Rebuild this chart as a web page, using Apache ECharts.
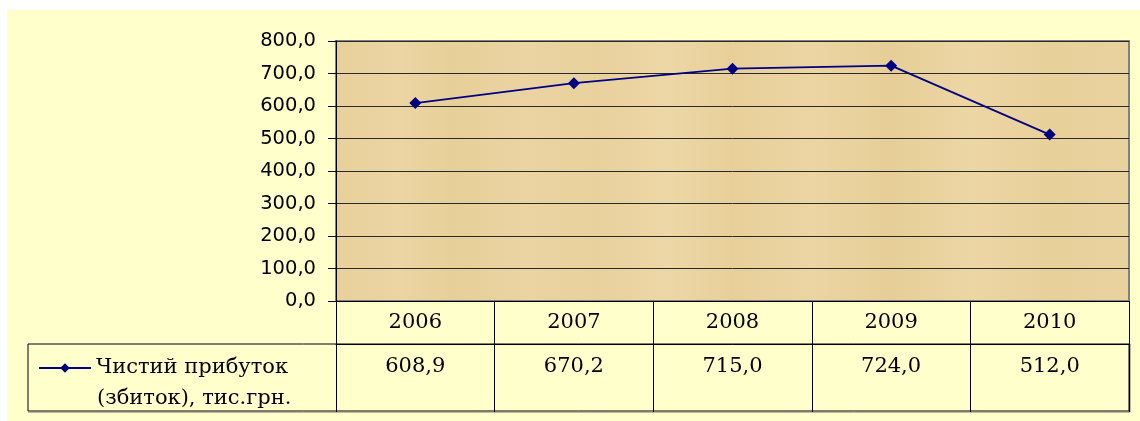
<!DOCTYPE html>
<html>
<head>
<meta charset="utf-8">
<script src="https://cdn.jsdelivr.net/npm/echarts@6/dist/echarts.min.js"></script>
<style>
  html, body {
    margin: 0;
    padding: 0;
    background: #fff;
  }
  #chart {
    position: absolute;
    left: 7px;
    top: 10px;
    width: 1133px;
    height: 411px;
    background: #ffffcc;
  }
</style>
</head>
<body>
<div id="chart"></div>
<script>
// роки та чистий прибуток (збиток), тис.грн.
const years = ['2006', '2007', '2008', '2009', '2010']
const netProfit = [608.9, 670.2, 715.0, 724.0, 512.0]
const seriesName = 'Чистий прибуток\n(збиток), тис.грн.'
const yTicks = { min: 0, max: 800, step: 100 }

// 608.9 -> "608,9"
function fmt (v) {
  return Number(v).toFixed(1).replace('.', ',')
}

const chartDom = document.getElementById('chart')
const myChart = echarts.init(chartDom)

// пергамент у зоні графіка
const parchment = new echarts.graphic.LinearGradient(0, 0, 1, 0, [
  { offset: 0, color: '#e8d09b' },
  { offset: 0.08, color: '#ecd5a3' },
  { offset: 0.15, color: '#e7cf99' },
  { offset: 0.24, color: '#ebd4a2' },
  { offset: 0.33, color: '#e9d19d' },
  { offset: 0.42, color: '#edd7a6' },
  { offset: 0.5, color: '#e8cf9a' },
  { offset: 0.6, color: '#ecd5a3' },
  { offset: 0.7, color: '#e7ce98' },
  { offset: 0.8, color: '#ecd6a4' },
  { offset: 0.9, color: '#e8d09b' },
  { offset: 1, color: '#ead29f' }
])

const serif = 'DejaVu Serif'

const option = {
  animation: false,
  grid: {
    left: 329,
    top: 31,
    width: 793,
    height: 260,
    show: true,
    backgroundColor: parchment,
    borderColor: '#808080',
    borderWidth: 2
  },
  legend: {
    left: 31,
    top: 343,
    padding: 0,
    orient: 'vertical',
    itemWidth: 52,
    itemHeight: 12,
    itemGap: 0,
    data: [seriesName],
    // перший рядок назви біля значка, другий нижче окремим текстом
    formatter: function (name) {
      return name.split('\n')[0]
    },
    textStyle: {
      fontFamily: serif,
      fontSize: 21,
      color: '#000',
      lineHeight: 30
    }
  },
  xAxis: [
    {
      // рядок з роками; поділки тягнуться вниз як лінії таблиці
      type: 'category',
      data: years,
      boundaryGap: true,
      axisLine: { show: true, lineStyle: { color: '#000', width: 1 } },
      axisTick: { show: true, inside: false, length: 111, lineStyle: { color: '#000', width: 1 } },
      axisLabel: {
        margin: 11,
        fontFamily: serif,
        fontSize: 21,
        color: '#000'
      },
      splitLine: { show: false }
    },
    {
      // рядок зі значеннями
      type: 'category',
      data: years,
      position: 'bottom',
      offset: 43,
      axisLine: { show: true, lineStyle: { color: '#000', width: 1 } },
      axisTick: { show: false },
      axisLabel: {
        margin: 12,
        fontFamily: serif,
        fontSize: 21,
        color: '#000',
        formatter: function (value, index) {
          return fmt(netProfit[index])
        }
      },
      splitLine: { show: false }
    }
  ],
  yAxis: {
    type: 'value',
    min: yTicks.min,
    max: yTicks.max,
    interval: yTicks.step,
    axisLine: { show: true, lineStyle: { color: '#000', width: 1 } },
    axisTick: { show: true, inside: false, length: 8, lineStyle: { color: '#000' } },
    axisLabel: {
      margin: 20,
      fontFamily: 'DejaVu Sans',
      fontSize: 19.5,
      color: '#000',
      formatter: fmt
    },
    splitLine: { show: true, lineStyle: { color: '#2a2a2a', width: 1 } }
  },
  graphic: [
    {
      // рамка рядка зі значеннями та комірка легенди
      type: 'rect',
      shape: { x: 21, y: 334, width: 1101, height: 67 },
      style: { fill: 'none', stroke: '#000', lineWidth: 1 },
      silent: true
    },
    {
      type: 'line',
      shape: { x1: 21, y1: 402, x2: 1123, y2: 402 },
      style: { stroke: '#777', lineWidth: 1 },
      silent: true
    },
    {
      type: 'line',
      shape: { x1: 1123, y1: 334, x2: 1123, y2: 402 },
      style: { stroke: '#777', lineWidth: 1 },
      silent: true
    },
    {
      type: 'text',
      left: 90,
      top: 378,
      style: {
        text: seriesName.split('\n')[1],
        font: '21px "DejaVu Serif"',
        fill: '#000'
      },
      silent: true
    }
  ],
  series: [{
    name: seriesName,
    type: 'line',
    data: netProfit,
    symbol: 'diamond',
    symbolSize: 12,
    itemStyle: { color: '#000080' },
    lineStyle: { color: '#000080', width: 1.8 }
  }]
}

myChart.setOption(option)
</script>
</body>
</html>
